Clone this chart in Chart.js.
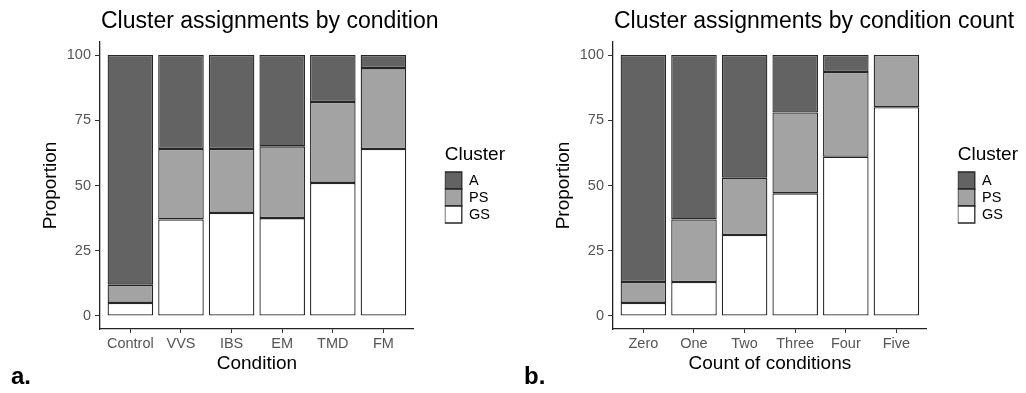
<!DOCTYPE html>
<html>
<head>
<meta charset="utf-8">
<script src="https://cdn.jsdelivr.net/npm/chart.js@4/dist/chart.umd.min.js"></script>
<style>
  html, body { margin: 0; padding: 0; background: #fff; }
  .panel { position: absolute; top: 0; width: 513px; height: 393px; }
</style>
</head>
<body>
<div class="panel" style="left:0"><canvas id="chartA" width="513" height="393"></canvas></div>
<div class="panel" style="left:513px"><canvas id="chartB" width="513" height="393"></canvas></div>
<script>
// data (proportions, %)
const conditions = ['Control', 'VVS', 'IBS', 'EM', 'TMD', 'FM'];
const condGS = [5, 37, 39.5, 37.5, 51, 64];
const condPS = [7, 27, 24.5, 27.5, 31, 31];
const condA = [88, 36, 36, 35, 18, 5];

const counts = ['Zero', 'One', 'Two', 'Three', 'Four', 'Five'];
const countGS = [5, 13, 31, 47, 61, 80];
const countPS = [8, 24, 22, 31, 32.5, 20];
const countA = [87, 63, 47, 22, 6.5, 0];

const yTicks = [0, 25, 50, 75, 100];

const FONT = "'Liberation Sans', Arial, sans-serif";
const fillA = '#636363', fillPS = '#a3a3a3', fillGS = '#ffffff';

// ggplot-like title (left on panel), legend gap and panel tag
const decor = {
    id: 'decor',
    afterLayout(chart) {
        const lg = chart.legend;
        lg.left = chart.chartArea.right + 31;
        lg.right = lg.left + 90; // room for the legend title
    },
    afterDraw(chart, args, opts) {
        const c = chart.ctx;
        c.save();
        c.fillStyle = '#000';
        c.textBaseline = 'alphabetic';
        c.font = '23px ' + FONT;
        c.fillText(opts.title, chart.chartArea.left + 1, 28);
        c.font = 'bold 24px ' + FONT;
        c.fillText(opts.tag, 11, 384);
        c.restore();
    }
};

function makeChart(id, title, tag, xTitle, cats, gs, ps, a) {
    const pts = arr => arr.map((v, i) => ({ x: i + 1, y: v }));
    const common = { borderColor: '#262626', borderWidth: 1.3, borderSkipped: false,
                     categoryPercentage: 1, barPercentage: 0.9 };
    return new Chart(document.getElementById(id), {
        type: 'bar',
        data: {
            datasets: [
                Object.assign({ label: 'GS', data: pts(gs), backgroundColor: fillGS }, common),
                Object.assign({ label: 'PS', data: pts(ps), backgroundColor: fillPS }, common),
                Object.assign({ label: 'A', data: pts(a), backgroundColor: fillA }, common)
            ]
        },
        options: {
            responsive: false,
            animation: false,
            layout: { padding: { left: 37, top: 42, right: 44, bottom: 0 } },
            scales: {
                x: {
                    type: 'linear',
                    stacked: true,
                    offset: false,
                    min: 0.4,
                    max: 6.6,
                    afterBuildTicks: s => { s.ticks = cats.map((c, i) => ({ value: i + 1 })); },
                    afterFit: s => { s.height = 64; },
                    grid: { drawOnChartArea: false, offset: false, tickLength: 4, tickColor: '#333', tickWidth: 1 },
                    border: { display: true, color: '#222', width: 1.3 },
                    ticks: { callback: v => cats[v - 1], color: '#555', padding: 2,
                             maxRotation: 0, font: { family: FONT, size: 14.5 } },
                    title: { display: true, text: xTitle, color: '#000',
                             font: { family: FONT, size: 19 }, padding: { top: 0, bottom: 17.6 } }
                },
                y: {
                    stacked: true,
                    min: -5,
                    max: 105,
                    afterBuildTicks: s => { s.ticks = yTicks.map(v => ({ value: v })); },
                    afterFit: s => { s.width = 63; },
                    grid: { drawOnChartArea: false, tickLength: 5, tickColor: '#333', tickWidth: 1 },
                    border: { display: true, color: '#222', width: 1.3 },
                    ticks: { color: '#555', padding: 4, font: { family: FONT, size: 14.5 } },
                    title: { display: true, text: 'Proportion', color: '#000',
                             font: { family: FONT, size: 19 }, padding: { top: 2, bottom: 0 } }
                }
            },
            plugins: {
                legend: {
                    position: 'right',
                    align: 'start',
                    reverse: true,
                    labels: { boxWidth: 17, boxHeight: 17, padding: 0, color: '#000',
                              font: { family: FONT, size: 14.5 } },
                    title: { display: true, text: 'Cluster', color: '#000', position: 'start',
                             font: { family: FONT, size: 19 }, padding: { top: 103.5, bottom: 3.7 } }
                },
                tooltip: { enabled: false },
                decor: { title: title, tag: tag }
            }
        },
        plugins: [decor]
    });
}

makeChart('chartA', 'Cluster assignments by condition', 'a.', 'Condition',
          conditions, condGS, condPS, condA);
makeChart('chartB', 'Cluster assignments by condition count', 'b.', 'Count of conditions',
          counts, countGS, countPS, countA);
</script>
</body>
</html>
